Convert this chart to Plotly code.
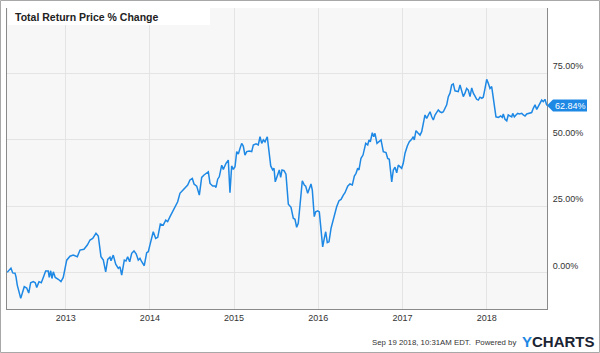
import plotly.graph_objects as go

# ---------------- data (decimal year, total return %) ----------------
years = [
    2012.306, 2012.350, 2012.371, 2012.398, 2012.410, 2012.425, 2012.466, 2012.489, 2012.508, 2012.537,
    2012.561, 2012.584, 2012.615, 2012.639, 2012.656, 2012.683, 2012.710, 2012.734, 2012.762, 2012.793,
    2012.805, 2012.822, 2012.837, 2012.853, 2012.876, 2012.912, 2012.944, 2012.971, 2012.992, 2013.012,
    2013.051, 2013.090, 2013.138, 2013.170, 2013.217, 2013.257, 2013.289, 2013.321, 2013.360, 2013.387,
    2013.419, 2013.447, 2013.475, 2013.499, 2013.526, 2013.538, 2013.565, 2013.594, 2013.625, 2013.645,
    2013.665, 2013.696, 2013.716, 2013.736, 2013.760, 2013.784, 2013.811, 2013.838, 2013.862, 2013.882,
    2013.903, 2013.933, 2013.962, 2013.981, 2014.005, 2014.040, 2014.069, 2014.093, 2014.124, 2014.159,
    2014.188, 2014.211, 2014.239, 2014.266, 2014.298, 2014.330, 2014.357, 2014.385, 2014.417, 2014.449,
    2014.476, 2014.504, 2014.524, 2014.556, 2014.587, 2014.615, 2014.643, 2014.675, 2014.694, 2014.714,
    2014.746, 2014.773, 2014.785, 2014.805, 2014.824, 2014.853, 2014.872, 2014.904, 2014.931, 2014.951,
    2014.971, 2014.990, 2015.011, 2015.031, 2015.050, 2015.070, 2015.090, 2015.109, 2015.129, 2015.150,
    2015.180, 2015.209, 2015.228, 2015.260, 2015.287, 2015.308, 2015.328, 2015.347, 2015.367, 2015.394,
    2015.418, 2015.435, 2015.458, 2015.474, 2015.489, 2015.513, 2015.537, 2015.553, 2015.569, 2015.593,
    2015.616, 2015.644, 2015.676, 2015.703, 2015.723, 2015.743, 2015.762, 2015.783, 2015.810, 2015.834,
    2015.850, 2015.874, 2015.893, 2015.913, 2015.929, 2015.952, 2015.969, 2015.993, 2016.012, 2016.032,
    2016.052, 2016.071, 2016.088, 2016.107, 2016.127, 2016.151, 2016.171, 2016.190, 2016.218, 2016.246,
    2016.270, 2016.297, 2016.317, 2016.349, 2016.376, 2016.404, 2016.428, 2016.448, 2016.468, 2016.483,
    2016.507, 2016.531, 2016.546, 2016.563, 2016.587, 2016.602, 2016.618, 2016.641, 2016.658, 2016.673,
    2016.697, 2016.721, 2016.745, 2016.772, 2016.804, 2016.824, 2016.843, 2016.872, 2016.891, 2016.911,
    2016.931, 2016.950, 2016.970, 2016.990, 2017.009, 2017.030, 2017.057, 2017.081, 2017.109, 2017.128,
    2017.140, 2017.160, 2017.181, 2017.208, 2017.228, 2017.247, 2017.267, 2017.287, 2017.306, 2017.327,
    2017.347, 2017.366, 2017.386, 2017.406, 2017.425, 2017.445, 2017.466, 2017.485, 2017.505, 2017.525,
    2017.544, 2017.564, 2017.584, 2017.603, 2017.623, 2017.643, 2017.662, 2017.683, 2017.703, 2017.722,
    2017.742, 2017.762, 2017.781, 2017.802, 2017.822, 2017.841, 2017.861, 2017.881, 2017.900, 2017.920,
    2017.941, 2017.959, 2017.980, 2018.000, 2018.019, 2018.039, 2018.059, 2018.071, 2018.087, 2018.110,
    2018.138, 2018.166, 2018.185, 2018.197, 2018.217, 2018.238, 2018.256, 2018.277, 2018.297, 2018.309,
    2018.328, 2018.348, 2018.368, 2018.387, 2018.416, 2018.435, 2018.455, 2018.475, 2018.494, 2018.514,
    2018.534, 2018.553, 2018.574, 2018.594, 2018.613, 2018.633, 2018.653, 2018.672, 2018.692, 2018.714,
]
pct = [
    0.0, 1.6, -0.2, -0.3, -1.7, -4.8, -9.8, -7.8, -5.4, -5.9,
    -7.8, -3.9, -3.5, -3.9, -5.7, -3.5, -3.9, -1.9, 0.5, 0.5,
    -1.9, 0.6, -2.3, 0.2, -1.9, -2.6, -3.5, -1.9, 1.5, 4.6,
    6.1, 6.5, 5.9, 8.4, 8.7, 10.3, 12.2, 12.8, 14.7, 13.7,
    5.9, 4.6, 0.2, 4.9, 5.7, 4.4, 6.5, 3.1, 1.5, 2.1,
    -1.0, 4.6, 4.3, 5.9, 4.0, 7.2, 8.1, 6.9, 4.6, 5.3,
    4.0, 2.5, 7.4, 7.8, 10.9, 15.3, 12.8, 13.2, 18.2, 17.8,
    19.7, 19.1, 21.0, 22.8, 24.7, 26.6, 29.8, 30.8, 31.7, 32.9,
    34.8, 35.4, 33.3, 32.5, 29.1, 35.8, 36.7, 37.3, 37.9, 33.5,
    32.5, 32.5, 32.0, 35.1, 36.0, 40.4, 38.8, 41.1, 42.3, 30.0,
    40.1, 38.8, 39.8, 45.5, 44.6, 46.7, 48.6, 47.6, 44.2, 45.5,
    45.7, 45.5, 48.0, 48.4, 48.0, 51.1, 48.6, 49.9, 49.2, 51.1,
    45.5, 40.1, 38.6, 39.2, 34.1, 36.7, 38.6, 35.8, 38.6, 38.3,
    37.0, 25.7, 24.5, 20.4, 20.0, 17.0, 18.5, 25.4, 34.5, 32.9,
    32.5, 29.8, 31.7, 33.3, 31.0, 21.0, 22.8, 23.2, 22.8, 17.2,
    9.6, 12.8, 15.3, 11.2, 11.5, 16.6, 19.1, 21.0, 24.7, 27.0,
    27.5, 29.1, 30.0, 32.5, 33.3, 32.9, 36.3, 37.3, 39.2, 38.6,
    43.0, 44.2, 46.7, 48.6, 48.0, 49.9, 49.2, 52.6, 51.1, 52.4,
    48.6, 49.2, 49.9, 45.5, 45.1, 42.9, 42.6, 34.1, 38.6, 39.6,
    37.5, 40.4, 39.6, 39.2, 41.1, 44.9, 47.6, 49.2, 50.1, 51.1,
    49.9, 53.4, 52.6, 51.7, 53.0, 55.5, 59.3, 58.0, 59.3, 60.5,
    58.6, 57.4, 59.3, 60.2, 61.2, 60.5, 60.2, 60.5, 61.8, 63.1,
    66.2, 67.5, 70.6, 71.0, 68.4, 68.1, 68.1, 70.6, 68.7, 66.2,
    67.5, 69.3, 68.7, 66.2, 69.5, 67.5, 66.4, 65.2, 64.9, 66.0,
    65.6, 66.0, 69.3, 72.7, 71.2, 69.3, 70.0, 67.5, 62.4, 58.6,
    58.4, 58.9, 58.4, 59.7, 57.7, 57.1, 59.3, 58.9, 58.6, 59.9,
    58.6, 59.3, 59.9, 59.7, 59.9, 59.3, 58.9, 59.7, 59.9, 59.9,
    60.2, 61.8, 63.1, 61.4, 62.7, 63.9, 64.9, 64.3, 65.2, 62.84,
]

x_ticks = [2013, 2014, 2015, 2016, 2017, 2018]
x_tick_labels = ["2013", "2014", "2015", "2016", "2017", "2018"]
y_ticks = [0, 25, 50, 75]
y_tick_labels = ["0.00%", "25.00%", "50.00%", "75.00%"]
x_range = [2012.303, 2018.716]
y_range = [-13.8, 99.6]

title_text = "Total Return Price % Change"
footer_text = "Sep 19 2018, 10:31AM EDT.  Powered by"
last_label = f"{pct[-1]:.2f}%"

# ---------------- styling ----------------
W, H = 600, 353
ML, MR, MT, MB = 7, 53, 8, 44
PW, PH = W - ML - MR, H - MT - MB
LINE = "#1e88e5"
FONT = "Liberation Sans, Arial, Helvetica, sans-serif"


def px_x(px):
    return (px - ML) / PW


def px_y(py):
    return (H - MB - py) / PH


fig = go.Figure(
    go.Scatter(
        x=years, y=pct, mode="lines",
        line=dict(color=LINE, width=1.5),
        hoverinfo="skip",
    )
)

fig.update_layout(
    width=W, height=H,
    margin=dict(l=ML, r=MR, t=MT, b=MB, pad=0),
    paper_bgcolor="white",
    plot_bgcolor="#f7f7f7",
    showlegend=False,
    font=dict(family=FONT, color="#333333"),
)

fig.update_xaxes(
    range=x_range, tickvals=x_ticks, ticktext=x_tick_labels,
    showgrid=True, gridcolor="#e4e4e4", gridwidth=1,
    zeroline=False, showline=True, linecolor="#8a8a8a", linewidth=1,
    ticks="", tickfont=dict(size=9, color="#333333", family=FONT),
    ticklabelstandoff=0,
)
fig.update_yaxes(
    side="right", range=y_range, tickvals=y_ticks, ticktext=y_tick_labels,
    showgrid=True, gridcolor="#e4e4e4", gridwidth=1,
    zeroline=False, showline=True, mirror=True, linecolor="#8a8a8a", linewidth=1,
    ticks="", tickfont=dict(size=9, color="#333333", family=FONT),
    ticklabelstandoff=3, ticklabelshift=-7,
)

shapes = [
    # outer frame
    dict(type="rect", xref="paper", yref="paper", layer="above",
         x0=px_x(0.5), x1=px_x(W - 0.5), y0=px_y(0.5), y1=px_y(H - 0.5),
         line=dict(color="#a8a8a8", width=1), fillcolor="rgba(0,0,0,0)"),
    # title box
    dict(type="rect", xref="paper", yref="paper", layer="above",
         x0=px_x(8), x1=px_x(210), y0=px_y(8), y1=px_y(25),
         line=dict(width=0), fillcolor="white"),
    # last value tag
    dict(type="path", xref="paper", yref="y", layer="above",
         xsizemode="pixel", ysizemode="pixel", xanchor=1, yanchor=pct[-1],
         path="M 0 0 L 6 6 L 40 6 L 40 -6 L 6 -6 Z",
         line=dict(width=0), fillcolor=LINE),
]

annotations = [
    dict(text=f"<b>{title_text}</b>", xref="paper", yref="paper",
         x=px_x(13), y=px_y(16.5), xanchor="left", yanchor="middle",
         showarrow=False, font=dict(size=10.5, color="#222222", family=FONT)),
    dict(text=last_label, xref="paper", yref="y", x=1, y=pct[-1],
         xanchor="left", yanchor="middle", xshift=6, showarrow=False,
         font=dict(size=9, color="white", family=FONT)),
    dict(text=footer_text, xref="paper", yref="paper",
         x=px_x(518), y=px_y(342), xanchor="right", yanchor="middle",
         showarrow=False, font=dict(size=7.8, color="#333333", family=FONT)),
    dict(text="<b><span style='color:#1e88e5'>Y</span>CHARTS</b>", xref="paper", yref="paper",
         x=px_x(520), y=px_y(341), xanchor="left", yanchor="middle",
         showarrow=False, font=dict(size=15, color="#1b2433", family=FONT)),
]

fig.update_layout(shapes=shapes, annotations=annotations)

fig.write_html("out.html")
